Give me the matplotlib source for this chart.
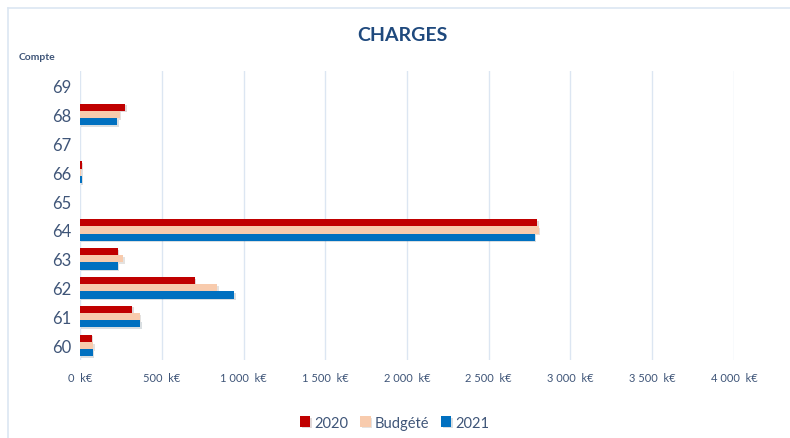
import matplotlib
matplotlib.use("Agg")
import matplotlib.pyplot as plt
import matplotlib.patheffects as pe
import numpy as np

plt.rcParams['font.family'] = ['Lato', 'DejaVu Sans']

# comptes et montants (k€)
comptes = ['60', '61', '62', '63', '64', '65', '66', '67', '68', '69']
v2020 = [73, 320, 701, 232, 2797, 0, 10, 0, 277, 0]
budget = [81, 367, 840, 265, 2805, 0, 8, 0, 243, 0]
v2021 = [79, 369, 944, 232, 2782, 0, 10, 0, 228, 0]
xticks = [0, 500, 1000, 1500, 2000, 2500, 3000, 3500, 4000]

col2020 = '#C00000'
colbud = '#F8CBAD'
col2021 = '#0070C0'
txtcol = '#3F5578'

fig = plt.figure(figsize=(7.9, 4.39), dpi=100)
ax = fig.add_axes([0.1013, 0.1777, 0.8278, 0.6583])

y = np.arange(len(comptes))
h = 0.25
shadow = [pe.SimplePatchShadow(offset=(1, -1.2), alpha=0.15), pe.Normal()]
b1 = ax.barh(y + h, v2020, height=h, color=col2020, label='2020')
b2 = ax.barh(y, budget, height=h, color=colbud, label='Budgété')
b3 = ax.barh(y - h, v2021, height=h, color=col2021, label='2021')
for bars in (b1, b2, b3):
    for b in bars:
        b.set_path_effects(shadow)

ax.set_xlim(0, 4000)
ax.set_ylim(-0.5, len(comptes) - 0.5)
ax.set_xticks(xticks)
ax.set_xticklabels([('{:,}'.format(v).replace(',', ' ')) + '  k€' for v in xticks],
                   fontsize=8, color=txtcol)
ax.set_yticks(y)
ax.set_yticklabels(comptes, fontsize=12, color=txtcol)
ax.tick_params(length=0, pad=6)
ax.tick_params(axis='x', pad=9)
ax.grid(axis='x', color='#DCE6F2', linewidth=1)
ax.set_axisbelow(True)
for s in ax.spines.values():
    s.set_visible(False)

fig.text(0.51, 0.92, 'CHARGES', ha='center', va='center', fontsize=14,
         fontweight='bold', color='#1F497D')
fig.text(0.023, 0.87, 'Compte', ha='left', va='center', fontsize=7.5,
         fontweight='bold', color=txtcol)

leg = fig.legend(loc='center', bbox_to_anchor=(0.5, 0.035), ncol=3, frameon=False,
                 fontsize=10.5, handlelength=0.7, handleheight=0.7, handletextpad=0.3,
                 columnspacing=0.8)
for t in leg.get_texts():
    t.set_color(txtcol)

# cadre
fig.add_artist(plt.Line2D([0.01, 0.01], [0.0, 0.98], color='#DCE6F2', lw=1.2))
fig.add_artist(plt.Line2D([0.01, 1.0], [0.98, 0.98], color='#DCE6F2', lw=1.2))

fig.savefig('out.png', dpi=100)
plt.close()
